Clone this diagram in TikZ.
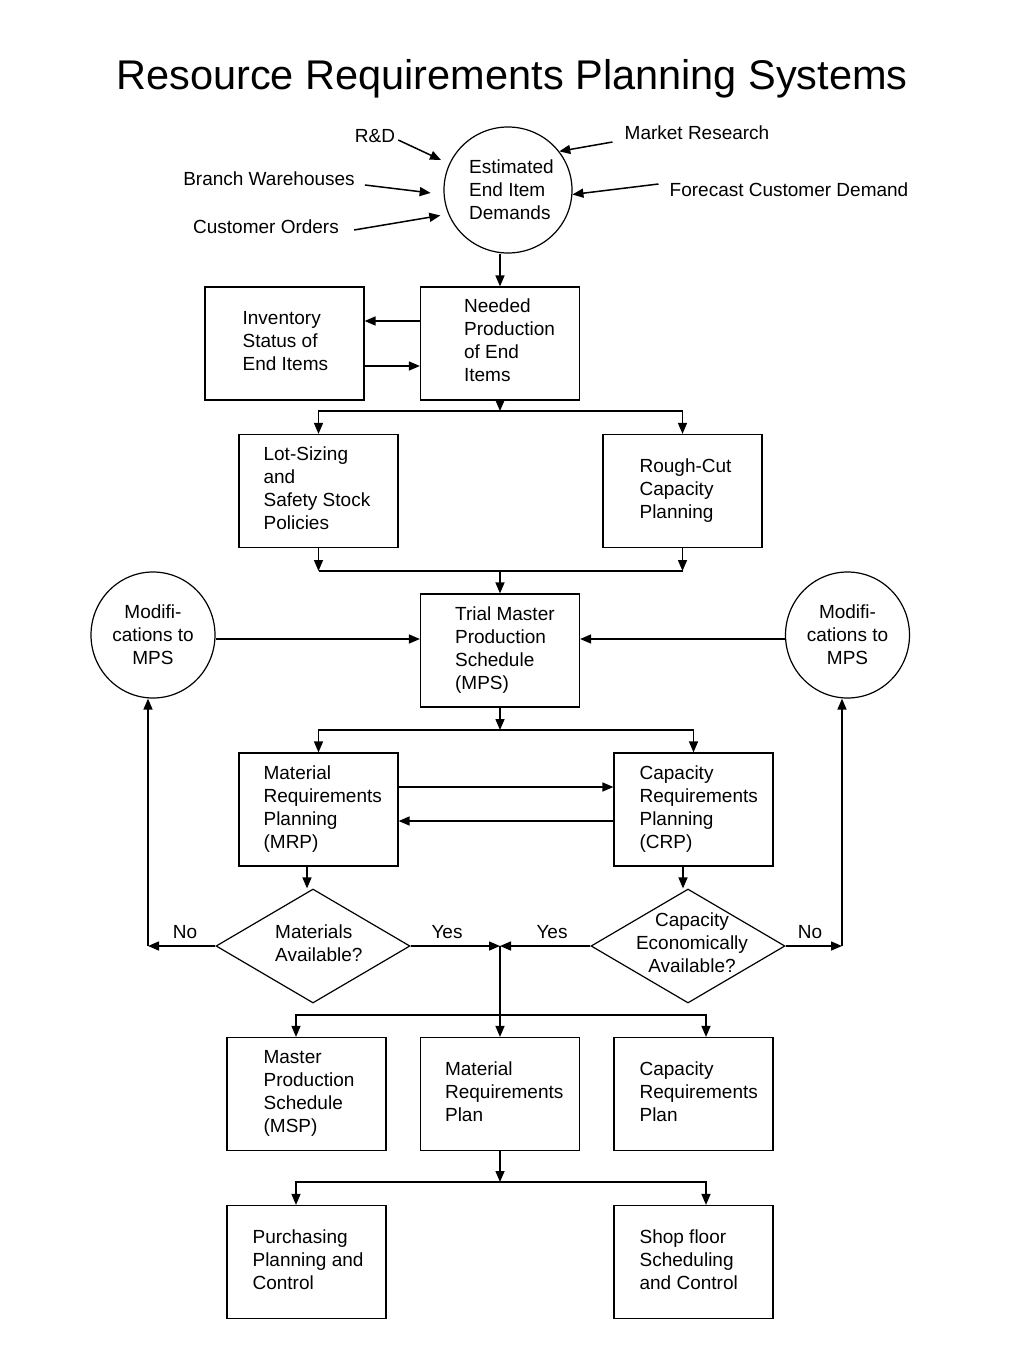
\documentclass[tikz,border=0pt]{standalone}
\usepackage{fontspec}
\setmainfont{Liberation Sans}
\usetikzlibrary{arrows.meta,shapes.geometric,calc}
\begin{document}
\begin{tikzpicture}[x=1pt,y=-1pt,
  every node/.style={font=\fontsize{19}{23}\selectfont, inner sep=0pt},
  box/.style={draw, line width=1.2pt, minimum width=159pt, minimum height=113pt},
  txt/.style={align=left, anchor=west},
  oval/.style={draw, ellipse, line width=1.2pt, align=center},
  dia/.style={draw, diamond, line width=1.2pt, minimum width=194pt, minimum height=114pt},
  arr/.style={line width=1.5pt, -{Triangle[length=11pt,width=9pt]}},
  ln/.style={line width=1.5pt}]
\fill[white] (0,0) rectangle (1024,1365);
\useasboundingbox (0,0) rectangle (1024,1365);

\node[font=\fontsize{41.5}{50}\selectfont] (title) at (512,79) {Resource Requirements Planning Systems};

% top ellipse and sources
\node[oval, minimum width=128pt, minimum height=126pt] (est) at (508,190) {};
\node[txt] (estT) at (469,190) {Estimated\\End Item\\Demands};
\node (rd) at (375,136) {R\&D};
\node (mr) at (697,133) {Market Research};
\node (bw) at (269,179) {Branch Warehouses};
\node (fc) at (789,190) {Forecast Customer Demand};
\node (co) at (266,227) {Customer Orders};
\draw[arr, shorten >=9pt] ([xshift=3pt,yshift=-4pt]rd.east) -- (est.156);
\draw[arr] ([xshift=-12pt,yshift=-9pt]mr.west) -- (est.37);
\draw[arr, shorten >=13pt] ([xshift=10pt,yshift=-6pt]bw.east) -- (est.184.5);
\draw[arr] ([xshift=-11pt,yshift=6pt]fc.west) -- (est.-4.6);
\draw[arr, shorten >=8pt] ([xshift=15pt,yshift=-3pt]co.east) -- (est.202.7);

% boxes
\node[box] (inv) at (284.5,343.5) {};
\node[box] (need) at (500,343.5) {};
\node[box] (lot) at (318.5,491) {};
\node[box] (rough) at (682.5,491) {};
\node[box] (trial) at (500,650.5) {};
\node[box] (mrp) at (318.5,809.5) {};
\node[box] (crp) at (693.5,809.5) {};
\node[box] (msp) at (306.5,1094) {};
\node[box] (mrplan) at (500,1094) {};
\node[box] (crplan) at (693.5,1094) {};
\node[box] (purch) at (306.5,1262) {};
\node[box] (shop) at (693.5,1262) {};

\node[txt] (invT) at ([xshift=38pt,yshift=2pt]inv.west) {Inventory\\Status of\\End Items};
\node[txt] (needT) at ([xshift=44pt,yshift=3pt]need.west) {Needed\\Production\\of End\\Items};
\node[txt] (lotT) at ([xshift=25pt,yshift=3pt]lot.west) {Lot-Sizing\\and\\Safety Stock\\Policies};
\node[txt] (roughT) at ([xshift=37pt,yshift=0pt]rough.west) {Rough-Cut\\Capacity\\Planning};
\node[txt] (trialT) at ([xshift=35pt,yshift=0pt]trial.west) {Trial Master\\Production\\Schedule\\(MPS)};
\node[txt] (mrpT) at ([xshift=25pt,yshift=0pt]mrp.west) {Material\\Requirements\\Planning\\(MRP)};
\node[txt] (crpT) at ([xshift=26pt,yshift=0pt]crp.west) {Capacity\\Requirements\\Planning\\(CRP)};
\node[txt] (mspT) at ([xshift=37pt,yshift=1pt]msp.west) {Master\\Production\\Schedule\\(MSP)};
\node[txt] (mrplanT) at ([xshift=25pt,yshift=2pt]mrplan.west) {Material\\Requirements\\Plan};
\node[txt] (crplanT) at ([xshift=26pt,yshift=2pt]crplan.west) {Capacity\\Requirements\\Plan};
\node[txt] (purchT) at ([xshift=26pt,yshift=2pt]purch.west) {Purchasing\\Planning and\\Control};
\node[txt] (shopT) at ([xshift=26pt,yshift=2pt]shop.west) {Shop floor\\Scheduling\\and Control};

% modification circles
\node[oval, minimum width=124pt, minimum height=126pt] (modl) at (153,635) {Modifi-\\cations to\\MPS};
\node[oval, minimum width=124pt, minimum height=126pt] (modr) at (847.5,635) {Modifi-\\cations to\\MPS};

% diamonds
\node[dia] (dmat) at (313,946) {};
\node[dia] (dcap) at (688,946) {};
\node[txt] (dmatT) at (275,943) {Materials\\Available?};
\node[align=center] (dcapT) at (692,943) {Capacity\\Economically\\Available?};

\node (no1) at (185,932) {No};
\node (yes1) at (447,932) {Yes};
\node (yes2) at (552,932) {Yes};
\node (no2) at (810,932) {No};

% connectors
\draw[arr] (need.north |- est.south) -- (need.north);
\draw[arr] ([yshift=22.5pt]need.west) -- ([yshift=22.5pt]inv.east);
\draw[arr] ([yshift=-22.5pt]inv.east) -- ([yshift=-22.5pt]need.west);

\coordinate (j1) at (500,411);
\draw[arr] (need.south) -- (j1);
\draw[arr] (j1) -| (lot.north);
\draw[arr] (j1) -| (rough.north);

\coordinate (j2) at (500,571);
\draw[arr] (lot.south) -- (lot.south |- j2);
\draw[arr] (rough.south) -- (rough.south |- j2);
\draw[ln] (lot.south |- j2) -- (rough.south |- j2);
\draw[arr] (j2) -- (trial.north);

\coordinate (ml) at ([yshift=-4pt]modl.east);
\coordinate (mrr) at ([yshift=-4pt]modr.west);
\draw[arr] (ml) -- (ml -| trial.west);
\draw[arr] (mrr) -- (mrr -| trial.east);

\coordinate (j3) at (500,730);
\draw[arr] (trial.south) -- (j3);
\draw[arr] (j3) -| (mrp.north);
\draw[arr] (j3) -| (crp.north);

\draw[arr] ([yshift=22.5pt]mrp.east) -- ([yshift=22.5pt]crp.west);
\draw[arr] ([yshift=-11.5pt]crp.west) -- ([yshift=-11.5pt]mrp.east);

\coordinate (mrpout) at ([xshift=-11.5pt]mrp.south);
\coordinate (crpout) at ([xshift=-10.5pt]crp.south);
\draw[arr] (mrpout) -- (mrpout |- dmat.north);
\draw[arr] (crpout) -- (crpout |- dcap.north);

\coordinate (j4) at (500,946);
\draw[arr] (dmat.east) -- (j4);
\draw[arr] (dcap.west) -- (j4);
\coordinate (nl) at (148,946);
\coordinate (nr) at (842,946);
\draw[arr] (dmat.west) -- (nl);
\draw[arr] (nl) -- (nl |- modl.south);
\draw[arr] (dcap.east) -- (nr);
\draw[arr] (nr) -- (nr |- modr.south);

\coordinate (j5) at (500,1015);
\coordinate (mspin) at ([xshift=-10.5pt]msp.north);
\coordinate (crplin) at ([xshift=12.5pt]crplan.north);
\draw[arr] (j4) -- (mrplan.north);
\draw[arr] (j5) -| (mspin);
\draw[arr] (j5) -| (crplin);

\coordinate (j6) at (500,1182);
\coordinate (purin) at ([xshift=-10.5pt]purch.north);
\coordinate (shopin) at ([xshift=12.5pt]shop.north);
\draw[arr] (mrplan.south) -- (j6);
\draw[arr] (j6) -| (purin);
\draw[arr] (j6) -| (shopin);
\end{tikzpicture}
\end{document}
